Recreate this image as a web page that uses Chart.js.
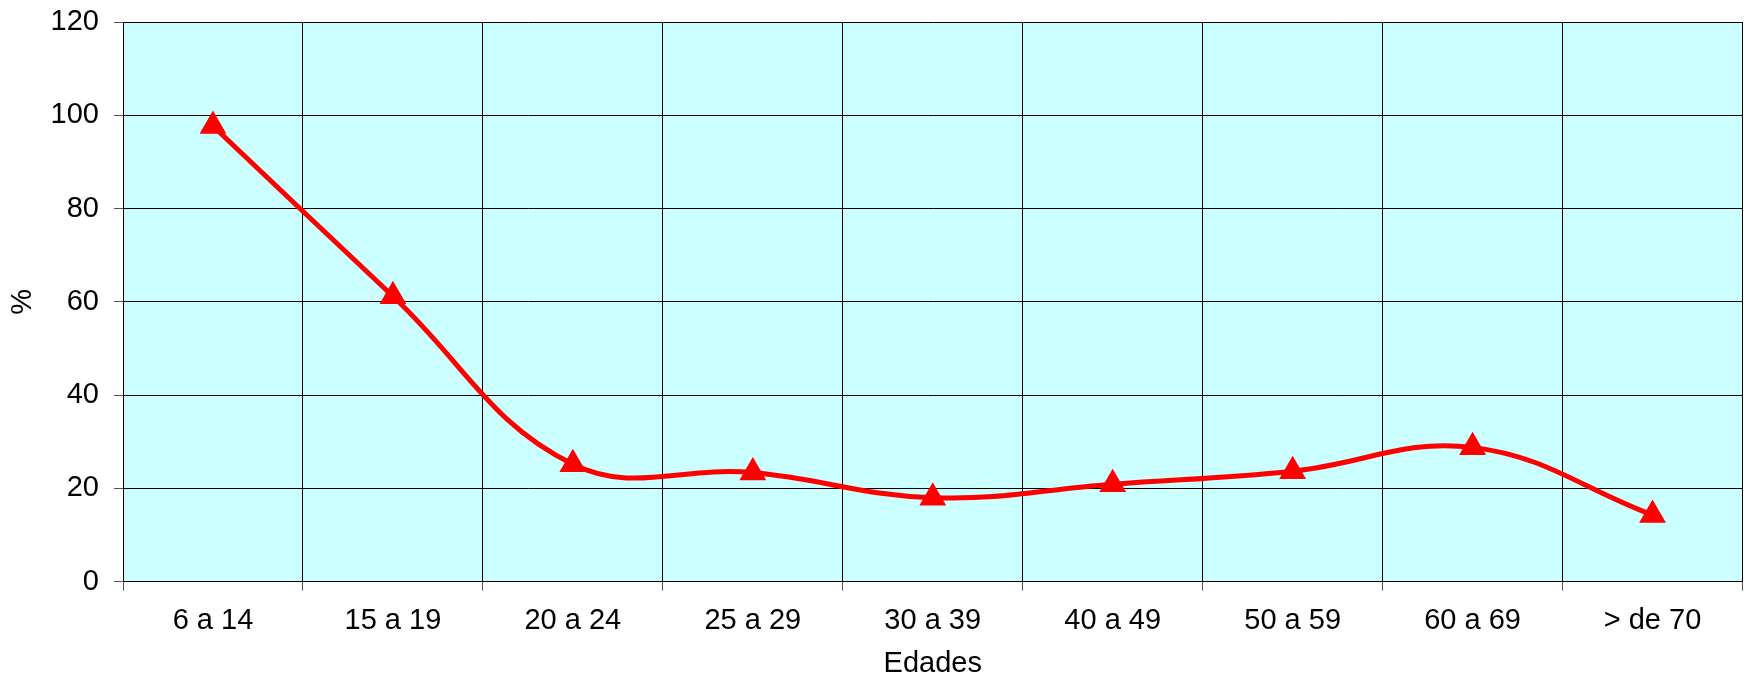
<!DOCTYPE html>
<html>
<head>
<meta charset="utf-8">
<script src="https://cdn.jsdelivr.net/npm/chart.js@4"></script>
<style>
  html, body { margin: 0; padding: 0; background: #fff; }
  #wrap { width: 1758px; height: 678px; }
</style>
</head>
<body>
<div id="wrap"><canvas id="chart"></canvas></div>
<script>
const edades = ["6 a 14", "15 a 19", "20 a 24", "25 a 29", "30 a 39", "40 a 49", "50 a 59", "60 a 69", "> de 70"];
const porcentajes = [97.7, 61.2, 25.2, 23.4, 18.0, 20.9, 23.7, 28.8, 14.3];
const yTicks = [0, 20, 40, 60, 80, 100, 120];

// paint the plot area light cyan like the original
const plotBackground = {
  id: "plotBackground",
  beforeDraw(chart) {
    const { ctx, chartArea } = chart;
    ctx.save();
    ctx.fillStyle = "#CCFFFF";
    ctx.fillRect(chartArea.left, chartArea.top, chartArea.right - chartArea.left, chartArea.bottom - chartArea.top);
    ctx.restore();
  },
};

const font = { family: "'Liberation Sans', Arial, sans-serif", size: 29, lineHeight: 1.2 };

new Chart(document.getElementById("chart"), {
  type: "line",
  data: {
    labels: edades,
    datasets: [
      {
        data: porcentajes,
        borderColor: "#FF0000",
        backgroundColor: "#FF0000",
        borderWidth: 5,
        tension: 0.4,
        pointStyle: "triangle",
        pointRadius: 15.5,
        pointHoverRadius: 15.5,
        pointBorderWidth: 0,
      },
    ],
  },
  options: {
    responsive: true,
    maintainAspectRatio: false,
    animation: false,
    layout: { padding: { top: 22, right: 9, left: 0, bottom: 0 } },
    plugins: {
      legend: { display: false },
      tooltip: { enabled: false },
    },
    scales: {
      x: {
        offset: true,
        grid: { offset: true, color: "#000", lineWidth: 1, tickLength: 9, tickColor: "#555" },
        border: { color: "#000", width: 1 },
        ticks: { color: "#000", font: font, padding: 13, maxRotation: 0 },
        title: {
          display: true,
          text: "Edades",
          color: "#000",
          font: { family: font.family, size: 29, lineHeight: 1 },
          padding: { top: 0, bottom: 0 },
        },
        afterFit(scale) { scale.height = 96.3; },
      },
      y: {
        min: 0,
        max: 120,
        afterBuildTicks(scale) { scale.ticks = yTicks.map(v => ({ value: v })); },
        grid: { color: "#000", lineWidth: 1, tickLength: 9, tickColor: "#555" },
        border: { color: "#000", width: 1 },
        ticks: { color: "#000", font: font, padding: 15 },
        title: {
          display: true,
          text: "%",
          color: "#000",
          font: { family: font.family, size: 29, lineHeight: 1 },
          padding: { top: 8, bottom: 0 },
        },
        afterFit(scale) {
          scale.width = 123;
          scale.paddingTop = 0;
          scale.paddingBottom = 0;
        },
      },
    },
  },
  plugins: [plotBackground],
});
</script>
</body>
</html>
